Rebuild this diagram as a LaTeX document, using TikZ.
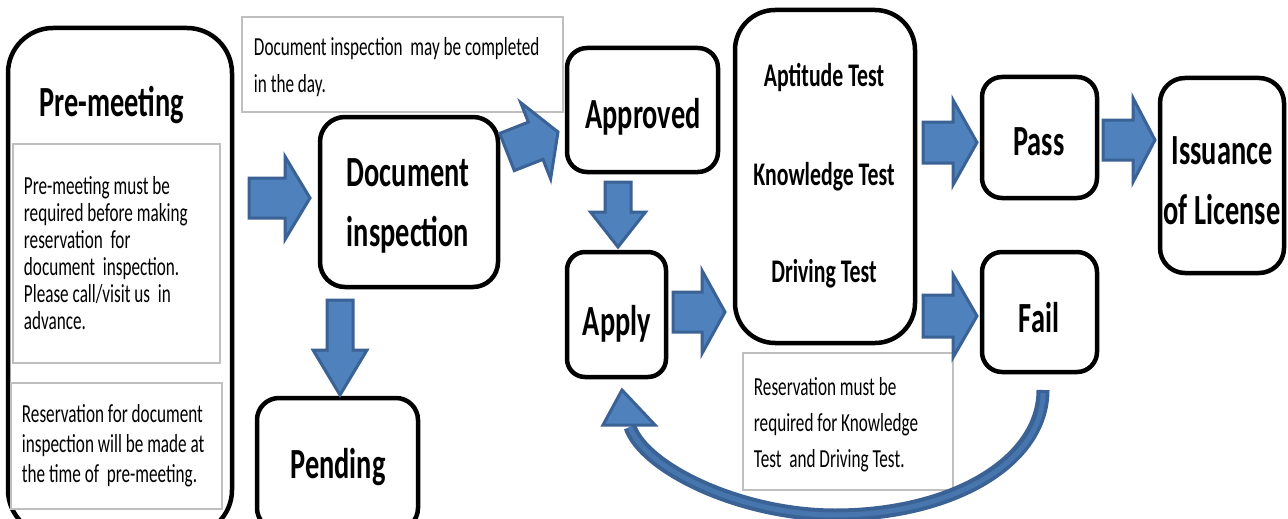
\documentclass[tikz,border=0pt]{standalone}
\usepackage{fontspec}
\setmainfont{Carlito}[FakeStretch=0.66]
\usetikzlibrary{calc}
\definecolor{afill}{HTML}{4F81BD}
\definecolor{aline}{HTML}{3B6295}
\definecolor{ainner}{HTML}{4775AE}
\definecolor{gline}{HTML}{BFBFBF}
\newcommand\hdfont{\bfseries\fontsize{43}{60}\selectfont}
\newcommand\tsfont{\bfseries\fontsize{33}{40}\selectfont}
\tikzset{
  box/.style={draw=black, line width=4.5pt, rounded corners=#1, fill=white, inner sep=0pt},
  box/.default=20pt,
  head/.style={font=\hdfont, inner sep=0pt, align=center},
  gbox/.style={draw=gline, line width=2.5pt, fill=white, inner sep=0pt},
  btext/.style={anchor=west, align=left, inner sep=0pt, font=\fontsize{26}{#1}\selectfont},
  blk/.style={fill=afill, draw=aline, line width=3pt, line join=miter},
}
\newcommand\blkarrow[5]{%
  \coordinate (hb) at ($(#2)!#5!(#1)$);
  \filldraw[blk] ($(#1)!#3!90:(#2)$) -- ($(hb)!#3!90:(#2)$) -- ($(hb)!#4!90:(#2)$) -- (#2)
    -- ($(hb)!#4!-90:(#2)$) -- ($(hb)!#3!-90:(#2)$) -- ($(#1)!#3!-90:(#2)$) -- cycle;
}
\begin{document}
\begin{tikzpicture}[x=1pt,y=-1pt]
\clip (0,0) rectangle (1288,519);
\fill[white] (0,0) rectangle (1288,519);

% Pre-meeting column
\node[box=45pt, minimum width=224pt, minimum height=507pt] (pre) at (120,281.5) {};
\node[head] (pretitle) at (112,105) {Pre-meeting};
\node[gbox, minimum width=207pt, minimum height=219pt] (g1) at (116.5,253.5) {};
\node[btext=27] (g1t) at ($(g1.west)+(12,0)$) {Pre-meeting must be\\required before making\\reservation~ for\\document~ inspection.\\Please call/visit us~ in\\advance.};
\node[gbox, minimum width=211pt, minimum height=126pt] (g2) at (116.5,446) {};
\node[btext=30] (g2t) at ($(g2.west)+(12,0)$) {Reservation for document\\inspection will be made at\\the time of~ pre-meeting.};

% note 1
\node[gbox, minimum width=321pt, minimum height=95pt] (n1) at (402.5,64.5) {};
\node[btext=37] (n1t) at ($(n1.west)+(13,3)$) {Document inspection~ may be completed\\in the day.};

% main boxes
\node[box=25pt, minimum width=178pt, minimum height=170pt] (doc) at (409,202) {};
\node[head] (doct) at (408,206) {Document\\inspection};
\node[box=22pt, minimum width=161pt, minimum height=132pt] (pend) at (337.5,464) {};
\node[head] (pendt) at (338,467) {Pending};
\node[box=20pt, minimum width=151pt, minimum height=124pt] (appr) at (642.5,110) {};
\node[head] (apprt) at (643,117) {Approved};
\node[box=18pt, minimum width=99pt, minimum height=125pt] (apply) at (616.5,314.5) {};
\node[head] (applyt) at (617,324) {Apply};
\node[box=40pt, minimum width=180pt, minimum height=333pt] (tests) at (825,176.5) {};
\node[font=\tsfont, inner sep=0pt] (t1) at (824,77) {Aptitude Test};
\node[font=\tsfont, inner sep=0pt] (t2) at (824,177) {Knowledge Test};
\node[font=\tsfont, inner sep=0pt] (t3) at (824,274) {Driving Test};
\node[box=20pt, minimum width=115pt, minimum height=121pt] (pass) at (1039.5,137.5) {};
\node[head] (passt) at (1039,142) {Pass};
\node[box=20pt, minimum width=115pt, minimum height=120pt] (fail) at (1039.5,312) {};
\node[head] (failt) at (1039,318) {Fail};
\node[box=25pt, minimum width=124pt, minimum height=195pt] (iss) at (1222,175.5) {};
\node[head] (isst) at (1222,181) {Issuance\\of License};

% note 2
\node[gbox, minimum width=210pt, minimum height=137pt] (n2) at (848,421.5) {};
\node[btext=36] (n2t) at ($(n2.west)+(12,3)$) {Reservation must be\\required for Knowledge\\Test~ and Driving Test.};

% block arrows
\coordinate (a1s) at (249,198);  \coordinate (a1e) at (310,198);
\coordinate (a2s) at (507,152);  \coordinate (a2e) at (558,132);
\coordinate (a3s) at (340,300);  \coordinate (a3e) at (340,395);
\coordinate (a4s) at (618,182);  \coordinate (a4e) at (618,247);
\coordinate (a5s) at (673,312);  \coordinate (a5e) at (725,312);
\coordinate (a6s) at (923,142.5);\coordinate (a6e) at (977,142.5);
\coordinate (a7s) at (923,316);  \coordinate (a7e) at (977,316);
\coordinate (a8s) at (1103,140); \coordinate (a8e) at (1155,140);
\blkarrow{a1s}{a1e}{20pt}{41.5pt}{25pt}
\blkarrow{a2s}{a2e}{20pt}{41pt}{24pt}
\blkarrow{a3s}{a3e}{13pt}{27pt}{45pt}
\blkarrow{a4s}{a4e}{13pt}{27.5pt}{35pt}
\blkarrow{a5s}{a5e}{20pt}{41.5pt}{23pt}
\blkarrow{a6s}{a6e}{20.5pt}{42.5pt}{24pt}
\blkarrow{a7s}{a7e}{21pt}{41.5pt}{24pt}
\blkarrow{a8s}{a8e}{20pt}{42pt}{22pt}

% curved return arrow
\coordinate (cs) at (1043,390);
\coordinate (ce) at (630,427);
\draw[aline, line width=13pt] (cs) .. controls (1043,462) and (952,515) .. (835,515) .. controls (740,515) and (644,468) .. (ce);
\draw[ainner, line width=5pt] ([yshift=-3pt]cs) .. controls (1043,462) and (952,515) .. (835,515) .. controls (740,515) and (644,468) .. (ce);
\coordinate (ctip) at (622,390);
\filldraw[blk] (603,425) -- (ctip) -- (655,425) -- cycle;
\end{tikzpicture}
\end{document}
